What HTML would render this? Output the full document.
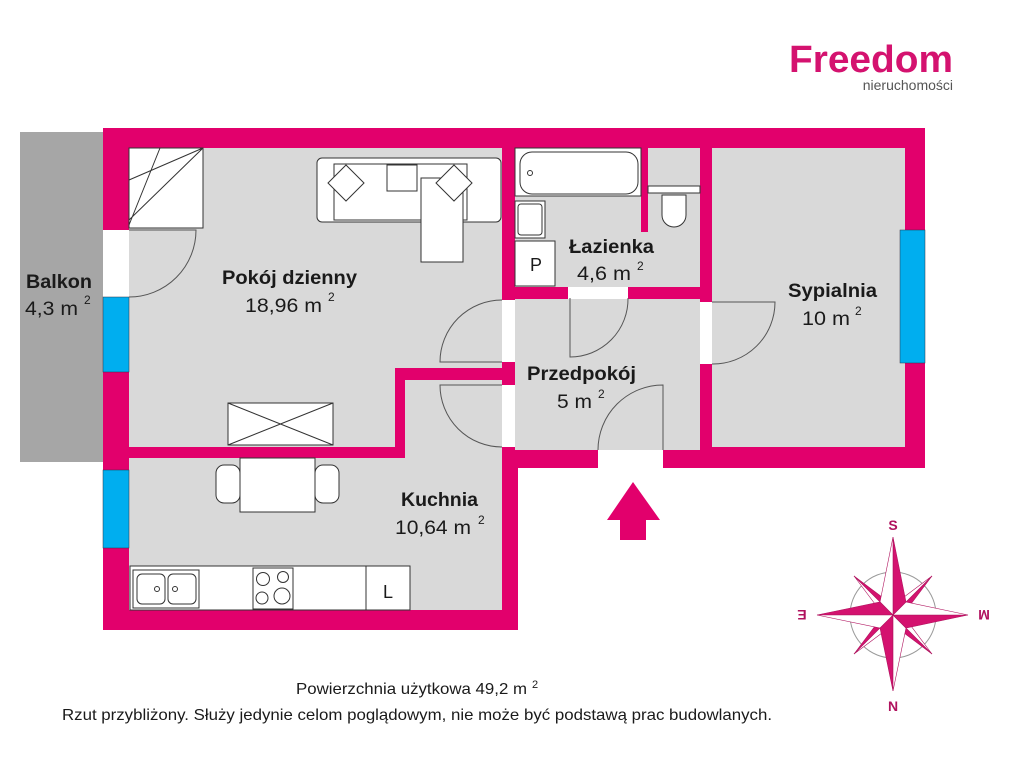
<!DOCTYPE html>
<html><head><meta charset="utf-8"><style>
html,body{margin:0;padding:0;background:#fff;}
svg{display:block;font-family:"Liberation Sans",sans-serif;}
.b{font-weight:bold;font-size:19px;fill:#1a1a1a;}
.n{font-size:19px;fill:#1a1a1a;}
.s{font-size:12px;fill:#1a1a1a;}
</style></head><body>
<svg width="1024" height="768" viewBox="0 0 1024 768" xmlns="http://www.w3.org/2000/svg">
<rect width="1024" height="768" fill="#fff"/>
<text x="789" y="72" font-size="38" font-weight="bold" fill="#d4126f" textLength="164" lengthAdjust="spacingAndGlyphs">Freedom</text>
<text x="953" y="90" font-size="14" fill="#555" text-anchor="end">nieruchomości</text>
<rect x="20" y="132" width="84" height="330" fill="#a6a6a6"/>
<polygon points="103,128 925,128 925,468 518,468 518,630 103,630" fill="#e2006c"/>
<g fill="#d9d9d9">
<polygon points="129,148 502,148 502,368 395,368 395,447 129,447"/>
<polygon points="129,458 405,458 405,380 502,380 502,610 129,610"/>
<rect x="515" y="299" width="185" height="151"/>
<rect x="515" y="148" width="185" height="139"/>
<rect x="712" y="148" width="193" height="299"/>
</g>
<rect x="641" y="148" width="7" height="84" fill="#e2006c"/>
<g fill="#fff">
<rect x="598" y="450" width="65" height="20"/>
<rect x="502" y="300" width="13" height="62"/>
<rect x="502" y="385" width="13" height="62"/>
<rect x="568" y="287" width="60" height="12"/>
<rect x="700" y="302" width="12" height="62"/>
<rect x="103" y="230" width="26" height="67"/>
</g>
<g fill="#00aeef" stroke="#334" stroke-width="0.5">
<rect x="103" y="297" width="26" height="75"/>
<rect x="103" y="470" width="26" height="78"/>
<rect x="900" y="230" width="25" height="133"/>
</g>
<g fill="none" stroke="#555" stroke-width="1">
<path d="M129,230 H196 A67,67 0 0 1 129,297"/>
<path d="M502,362 H440 A62,62 0 0 1 502,300"/>
<path d="M502,385 H440 A62,62 0 0 0 502,447"/>
<path d="M570,298 V357 A58,58 0 0 0 628,298"/>
<path d="M712,302 H775 A62,62 0 0 1 712,364"/>
<path d="M663,450 V385 A65,65 0 0 0 598,450"/>
</g>
<g fill="#fff" stroke="#333" stroke-width="1">
<rect x="129" y="148" width="74" height="80"/>
<path d="M129,220 L203,148 M129,180 L203,148 M160,148 L129,225" fill="none"/>
<rect x="317" y="158" width="184" height="64" rx="5"/>
<rect x="334" y="164" width="133" height="56"/>
<rect x="421" y="178" width="42" height="84"/>
<path d="M346,165 l18,18 l-18,18 l-18,-18z"/>
<rect x="387" y="165" width="30" height="26"/>
<path d="M454,165 l18,18 l-18,18 l-18,-18z"/>
<rect x="228" y="403" width="105" height="42"/>
<path d="M228,403 L333,445 M333,403 L228,445" fill="none"/>
<rect x="240" y="458" width="75" height="54"/>
<rect x="216" y="465" width="24" height="38" rx="8"/>
<rect x="315" y="465" width="24" height="38" rx="8"/>
<rect x="130" y="566" width="280" height="44"/>
<rect x="133" y="570" width="66" height="38"/>
<rect x="137" y="574" width="28" height="30" rx="5"/>
<rect x="168" y="574" width="28" height="30" rx="5"/>
<circle cx="157" cy="589" r="2.5"/>
<circle cx="175" cy="589" r="2.5"/>
<rect x="253" y="568" width="40" height="41"/>
<circle cx="263" cy="579" r="6.5"/><circle cx="283" cy="577" r="5.5"/>
<circle cx="262" cy="598" r="6"/><circle cx="282" cy="596" r="8"/>
<rect x="366" y="566" width="44" height="44"/>
<rect x="515" y="148" width="126" height="48"/>
<rect x="520" y="152" width="118" height="42" rx="12"/>
<circle cx="530" cy="173" r="2.5"/>
<rect x="515" y="201" width="30" height="37"/>
<rect x="518" y="204" width="24" height="31" rx="3"/>
<rect x="515" y="241" width="40" height="45"/>
<rect x="648" y="186" width="52" height="7"/>
<path d="M662,195 h24 v20 a12,12 0 0 1 -24,0z"/>
</g>
<text x="536" y="271" font-size="18" text-anchor="middle" fill="#1a1a1a">P</text>
<text x="388" y="598" font-size="18" text-anchor="middle" fill="#1a1a1a">L</text>
<text class="b" x="222" y="284" textLength="135" lengthAdjust="spacingAndGlyphs">Pokój dzienny</text>
<text class="n" x="245" y="312" textLength="77" lengthAdjust="spacingAndGlyphs">18,96 m</text><text class="s" x="328" y="301">2</text>
<text class="b" x="26" y="288" textLength="66" lengthAdjust="spacingAndGlyphs">Balkon</text>
<text class="n" x="25" y="315" textLength="53" lengthAdjust="spacingAndGlyphs">4,3 m</text><text class="s" x="84" y="304">2</text>
<text class="b" x="569" y="253" textLength="85" lengthAdjust="spacingAndGlyphs">Łazienka</text>
<text class="n" x="577" y="280" textLength="54" lengthAdjust="spacingAndGlyphs">4,6 m</text><text class="s" x="637" y="270">2</text>
<text class="b" x="788" y="297" textLength="89" lengthAdjust="spacingAndGlyphs">Sypialnia</text>
<text class="n" x="802" y="325" textLength="48" lengthAdjust="spacingAndGlyphs">10 m</text><text class="s" x="855" y="315">2</text>
<text class="b" x="527" y="380" textLength="109" lengthAdjust="spacingAndGlyphs">Przedpokój</text>
<text class="n" x="557" y="408" textLength="35" lengthAdjust="spacingAndGlyphs">5 m</text><text class="s" x="598" y="398">2</text>
<text class="b" x="401" y="506" textLength="77" lengthAdjust="spacingAndGlyphs">Kuchnia</text>
<text class="n" x="395" y="534" textLength="76" lengthAdjust="spacingAndGlyphs">10,64 m</text><text class="s" x="478" y="524">2</text>
<polygon points="633,482 660,520 646,520 646,540 620,540 620,520 607,520" fill="#e2006c"/>
<g transform="translate(893,615)">
<circle r="43" fill="none" stroke="#999" stroke-width="1"/>
<g fill="#d4126f" stroke="#b0125e" stroke-width="0.6">
<polygon points="-39,-39 -3,-12 0,0"/><polygon points="-39,-39 -12,-3 0,0" fill="#fff"/>
<polygon points="39,-39 12,-3 0,0"/><polygon points="39,-39 3,-12 0,0" fill="#fff"/>
<polygon points="39,39 3,12 0,0"/><polygon points="39,39 12,3 0,0" fill="#fff"/>
<polygon points="-39,39 -12,3 0,0"/><polygon points="-39,39 -3,12 0,0" fill="#fff"/>
<polygon points="0,-78 13,-13 0,0"/><polygon points="0,-78 -13,-13 0,0" fill="#fff"/>
<polygon points="0,76 -13,13 0,0"/><polygon points="0,76 13,13 0,0" fill="#fff"/>
<polygon points="-76,0 -13,-13 0,0"/><polygon points="-76,0 -13,13 0,0" fill="#fff"/>
<polygon points="75,0 13,13 0,0"/><polygon points="75,0 13,-13 0,0" fill="#fff"/>
</g>
<g font-size="14" font-weight="bold" fill="#b0125e" text-anchor="middle">
<text x="0" y="-85">S</text>
<text x="0" y="96">N</text>
<text x="-91" y="5" transform="rotate(180 -91 0)">E</text>
<text x="91" y="5" transform="rotate(180 91 0)">M</text>
</g>
</g>
<text x="296" y="694" font-size="16" fill="#1a1a1a" textLength="231" lengthAdjust="spacingAndGlyphs">Powierzchnia użytkowa 49,2 m</text><text x="532" y="688" font-size="11" fill="#1a1a1a">2</text>
<text x="62" y="720" font-size="16" fill="#1a1a1a" textLength="710" lengthAdjust="spacingAndGlyphs">Rzut przybliżony. Służy jedynie celom poglądowym, nie może być podstawą prac budowlanych.</text>
</svg>
</body></html>
